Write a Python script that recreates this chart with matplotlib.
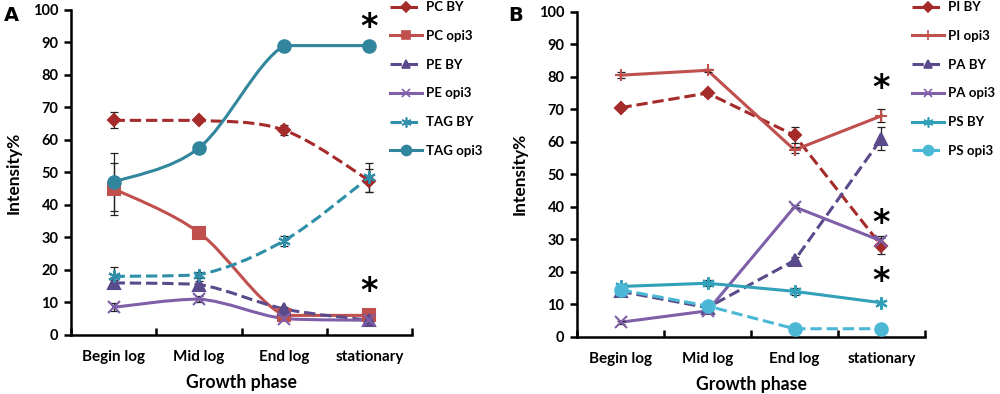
import numpy as np
import matplotlib
matplotlib.use("Agg")
import matplotlib.pyplot as plt
from matplotlib.path import Path
from matplotlib.patches import PathPatch
from matplotlib.lines import Line2D

plt.rcParams['font.family'] = ['Lato', 'DejaVu Sans']
plt.rcParams['font.weight'] = 'bold'

phases = ["Begin log", "Mid log", "End log", "stationary"]

# panel A
pc_by = [66, 66, 63, 47.5]
pc_by_err = [2.5, 0.5, 1.5, 3.5]
pc_opi3 = [45, 31.5, 6, 6]
pc_opi3_err = [8, 0.5, 0.5, 0.5]
pe_by = [16, 15.5, 8, 4.5]
pe_by_err = [1, 1, 0.5, 0.5]
pe_opi3 = [8.5, 11, 5, 4.5]
pe_opi3_err = [1.2, 1, 0.5, 0.5]
tag_by = [18, 18.5, 29, 48.5]
tag_by_err = [3, 1, 1.5, 4.5]
tag_opi3 = [47, 57.5, 89, 89]
tag_opi3_err = [9, 0.5, 0.5, 0.5]

# panel B
pi_by = [70.5, 75, 62, 28]
pi_by_err = [0.7, 1, 2.5, 2.5]
pi_opi3 = [80.5, 82, 57.5, 68]
pi_opi3_err = [1, 0.5, 1, 2]
pa_by = [14, 9, 23.5, 61]
pa_by_err = [0.5, 0.5, 1, 3.5]
pa_opi3 = [4.5, 8, 40, 29.5]
pa_opi3_err = [0.5, 0.5, 0.5, 1.5]
ps_by = [15.5, 16.5, 14, 10.5]
ps_by_err = [0.7, 1, 1, 0.5]
ps_opi3 = [14.5, 9.5, 2.5, 2.5]
ps_opi3_err = [0.5, 0.5, 0.3, 0.3]

red_d = '#A52A2A'
red = '#C0504D'
pur_d = '#5B4A8B'
pur = '#7E5FA8'
teal_d = '#2F8FA8'
teal = '#31859C'
teal_l = '#4BB8D6'
ast = (6, 2, 0)  # excel style asterisk marker

series_a = [
    ("PC BY", pc_by, pc_by_err, red_d, '--', 'D', 6),
    ("PC opi3", pc_opi3, pc_opi3_err, red, '-', 's', 8),
    ("PE BY", pe_by, pe_by_err, pur_d, '--', '^', 8),
    ("PE opi3", pe_opi3, pe_opi3_err, pur, '-', 'x', 8),
    ("TAG BY", tag_by, tag_by_err, teal_d, '--', ast, 9),
    ("TAG opi3", tag_opi3, tag_opi3_err, teal, '-', 'o', 9),
]
series_b = [
    ("PI BY", pi_by, pi_by_err, red_d, '--', 'D', 6),
    ("PI opi3", pi_opi3, pi_opi3_err, red, '-', '+', 9),
    ("PA BY", pa_by, pa_by_err, pur_d, '--', '^', 8),
    ("PA opi3", pa_opi3, pa_opi3_err, pur, '-', 'x', 8),
    ("PS BY", ps_by, ps_by_err, '#31A0B8', '-', ast, 9),
    ("PS opi3", ps_opi3, ps_opi3_err, teal_l, '--', 'o', 9),
]


def smooth_path(x, y):
    # catmull-rom as cubic bezier (excel smoothed line look), no overshoot
    pts = np.column_stack([x, y]).astype(float)
    n = len(pts)
    verts = [pts[0]]
    codes = [Path.MOVETO]
    for i in range(n - 1):
        p0 = pts[i - 1] if i > 0 else pts[i]
        p1 = pts[i]
        p2 = pts[i + 1]
        p3 = pts[i + 2] if i + 2 < n else pts[i + 1]
        c1 = p1 + (p2 - p0) / 6
        c2 = p2 - (p3 - p1) / 6
        lo, hi = min(p1[1], p2[1]), max(p1[1], p2[1])
        c1[1] = np.clip(c1[1], lo, hi)
        c2[1] = np.clip(c2[1], lo, hi)
        verts += [c1, c2, p2]
        codes += [Path.CURVE4] * 3
    return Path(verts, codes)


def panel(ax, series, smooth, stars):
    x = np.arange(len(phases))
    for name, vals, err, col, ls, mk, ms in series:
        if smooth:
            ax.add_patch(PathPatch(smooth_path(x, vals), fill=False, edgecolor=col,
                                   linestyle=ls, linewidth=2.2, zorder=2))
        else:
            ax.plot(x, vals, color=col, linestyle=ls, linewidth=2.2, zorder=2)
        ax.errorbar(x, vals, yerr=err, fmt='none', ecolor='#222222', elinewidth=0.9,
                    capsize=3, capthick=0.9, zorder=3)
        ax.plot(x, vals, linestyle='none', marker=mk, markersize=ms, color=col,
                markeredgecolor=col, markeredgewidth=1.5, zorder=4)
    for xs, ys in stars:
        ax.text(xs, ys, '*', ha='center', va='center', fontsize=24, fontweight='bold',
                family='DejaVu Sans', zorder=5)
    ax.set_xlim(-0.5, 3.5)
    ax.set_ylim(0, 100)
    ax.set_yticks(range(0, 101, 10))
    ax.set_xticks(x)
    ax.set_xticklabels(phases, fontsize=11)
    ax.set_xticks([-0.5, 0.5, 1.5, 2.5, 3.5], minor=True)
    ax.tick_params(axis='x', which='major', length=0, pad=11)
    ax.tick_params(axis='x', which='minor', direction='in', length=5, width=1.8)
    ax.tick_params(axis='y', direction='out', length=5, width=1.8, labelsize=10.5, pad=4)
    for s in ['top', 'right']:
        ax.spines[s].set_visible(False)
    for s in ['left', 'bottom']:
        ax.spines[s].set_linewidth(1.8)
    ax.set_xlabel("Growth phase", fontsize=12.7, fontweight='bold', labelpad=7)
    ax.set_ylabel("Intensity%", fontsize=12.5, fontweight='bold', labelpad=8)
    ax.patch.set_alpha(0)
    handles = [Line2D([], [], color=col, linestyle=ls, linewidth=2.2, marker=mk,
                      markersize=ms * 0.8, markeredgewidth=1.2)
               for name, vals, err, col, ls, mk, ms in series]
    labels = [s[0] for s in series]
    return handles, labels


fig = plt.figure(figsize=(10, 3.94), dpi=100)
axA = fig.add_axes([0.071, 0.15, 0.341, 0.825])
axB = fig.add_axes([0.577, 0.145, 0.348, 0.825])

hA, lA = panel(axA, series_a, True, [(3, 94.5), (3, 13.5)])
hB, lB = panel(axB, series_b, False, [(3, 76.5), (3, 35), (3, 17)])

leg_kw = dict(loc='upper left', frameon=False, fontsize=9.5, handlelength=2.4,
              labelspacing=1.27, handletextpad=0.3, borderpad=0, borderaxespad=0)
fig.legend(hA, lA, bbox_to_anchor=(0.390, 0.997), **leg_kw)
fig.legend(hB, lB, bbox_to_anchor=(0.912, 0.997), **leg_kw)

fig.text(0.004, 0.985, 'A', fontsize=14, fontweight='bold', family='DejaVu Sans', va='top')
fig.text(0.508, 0.985, 'B', fontsize=14, fontweight='bold', family='DejaVu Sans', va='top')

fig.savefig('out.png', dpi=100)
